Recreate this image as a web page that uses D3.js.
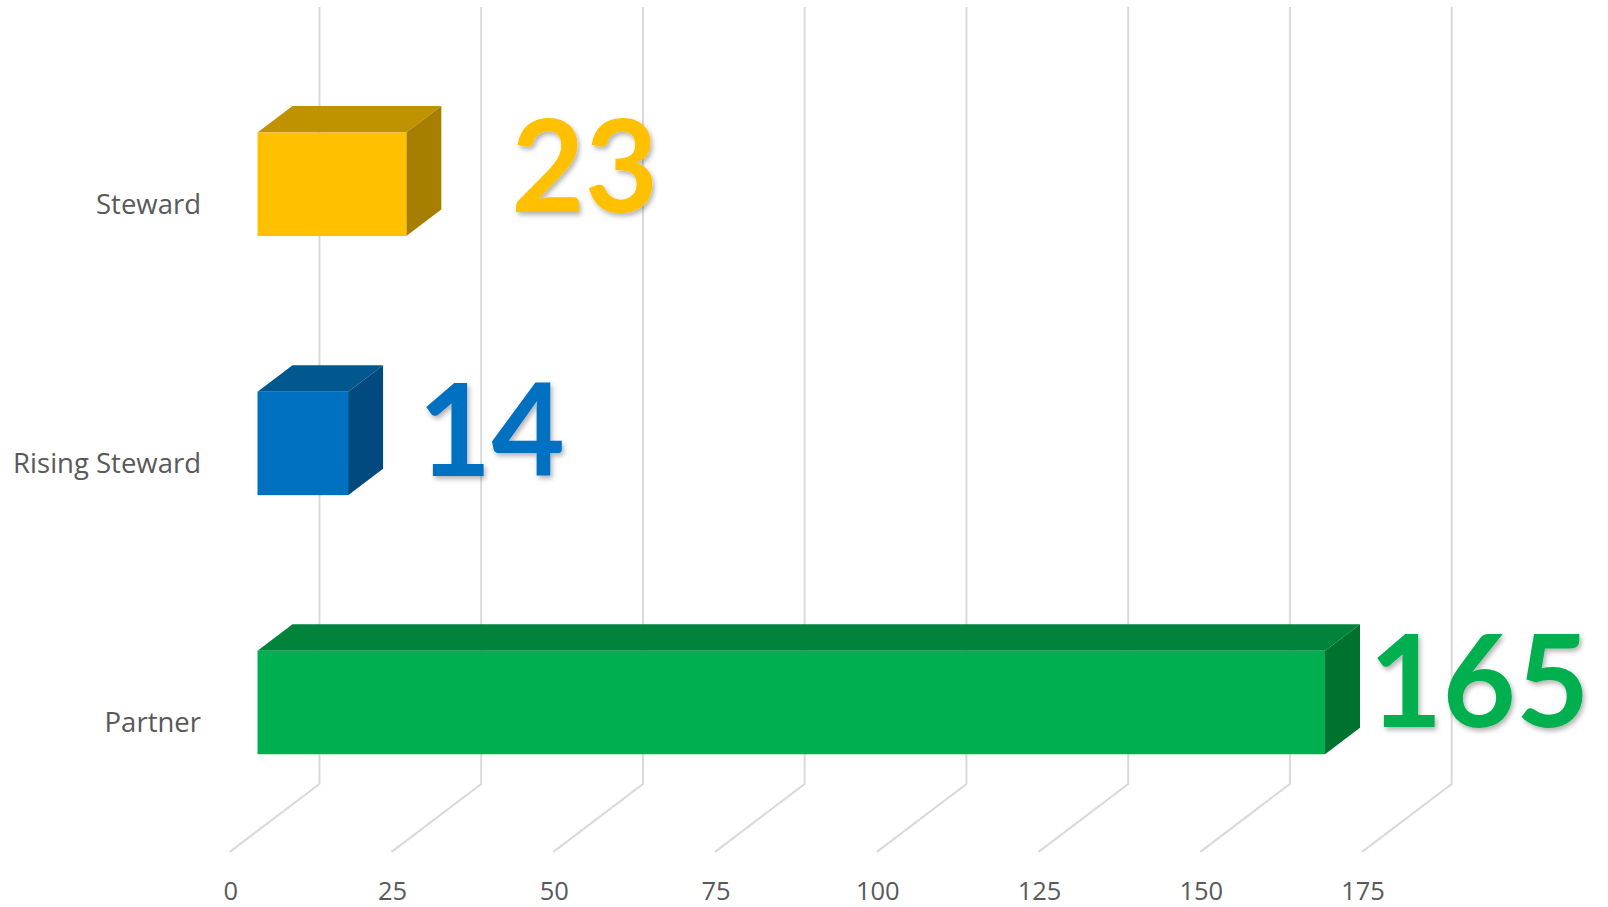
<!DOCTYPE html>
<html>
<head>
<meta charset="utf-8">
<script src="https://cdn.jsdelivr.net/npm/d3@7"></script>
<style>
    html, body { margin: 0; padding: 0; background: #fff; }
    svg { display: block; }
</style>
</head>
<body>
<svg id="chart" width="1608" height="907"></svg>
<script>
// chart data
var categories = ["Steward", "Rising Steward", "Partner"];
var values = [23, 14, 165];
var tickValues = [0, 25, 50, 75, 100, 125, 150, 175];

// face colours per category: front, top, side
var faceColors = {
    "Steward": ["#FFC000", "#C09200", "#A67E00"],
    "Rising Steward": ["#0070C0", "#00588F", "#004A7F"],
    "Partner": ["#00B050", "#00843C", "#00722F"]
};

// hand nudges for the big value labels (Excel puts them a bit unevenly)
var labelNudge = {
    "Steward": [70, -24],
    "Rising Steward": [35, -19],
    "Partner": [9, -27]
};

var svg = d3.select("#chart");

var x = d3.scaleLinear().domain([0, 175]).range([257.5, 1389.7]);
var y = d3.scalePoint().domain(categories).range([184.3, 702.5]);

var barH = 103.5;
var depth = [35, -26.5];      // one depth unit of the oblique projection
var wallD = 1.77;             // back wall, in depth units behind the bar front
var floorD = -0.79;           // front edge of the floor
var wallTop = 7;
var wallBottom = 784;
var labelFont = "'Open Sans', 'Noto Sans', sans-serif";

// gridlines: vertical on the back wall, then diagonal across the floor
var grid = svg.append("g").attr("class", "grid");
tickValues.forEach(t => {
    var bx = x(t) + depth[0] * wallD;
    var fx = x(t) + depth[0] * floorD;
    var fy = wallBottom + (wallD - floorD) * -depth[1];
    grid.append("path")
        .attr("d", "M" + bx + "," + wallTop + "L" + bx + "," + wallBottom + "L" + fx + "," + fy)
        .attr("fill", "none")
        .attr("stroke", "#d9d9d9")
        .attr("stroke-width", 2);
    grid.append("text")
        .attr("x", fx + 1)
        .attr("y", 900)
        .attr("text-anchor", "middle")
        .attr("font-family", labelFont)
        .attr("font-size", 25.5)
        .attr("fill", "#595959")
        .text(t);
});

// category labels
svg.append("g")
    .selectAll("text")
    .data(categories)
    .join("text")
    .attr("x", 201)
    .attr("y", d => y(d) + 29.5)
    .attr("text-anchor", "end")
    .attr("font-family", labelFont)
    .attr("font-size", 27.5)
    .attr("fill", "#595959")
    .text(d => d);

// 3d bars
var bars = svg.append("g").attr("class", "bars");
categories.forEach((c, i) => {
    var x0 = x(0), x1 = x(values[i]);
    var top = y(c) - barH / 2, bottom = y(c) + barH / 2;
    var dx = depth[0], dy = depth[1];
    var col = faceColors[c];
    var g = bars.append("g");
    // top face
    g.append("path")
        .attr("d", "M" + x0 + "," + top + "L" + (x0 + dx) + "," + (top + dy) +
            "L" + (x1 + dx) + "," + (top + dy) + "L" + x1 + "," + top + "Z")
        .attr("fill", col[1]);
    // side face
    g.append("path")
        .attr("d", "M" + x1 + "," + top + "L" + (x1 + dx) + "," + (top + dy) +
            "L" + (x1 + dx) + "," + (bottom + dy) + "L" + x1 + "," + bottom + "Z")
        .attr("fill", col[2]);
    // front face
    g.append("rect")
        .attr("x", x0)
        .attr("y", top)
        .attr("width", x1 - x0)
        .attr("height", barH)
        .attr("fill", col[0]);
});

// drop shadow for the value labels
var defs = svg.append("defs");
defs.append("filter")
    .attr("id", "shadow")
    .attr("x", "-10%").attr("y", "-10%")
    .attr("width", "130%").attr("height", "130%")
    .append("feDropShadow")
    .attr("dx", 2)
    .attr("dy", 3)
    .attr("stdDeviation", 2.5)
    .attr("flood-color", "#000")
    .attr("flood-opacity", 0.3);

var valueSize = 129;
svg.append("g")
    .selectAll("text")
    .data(categories)
    .join("text")
    .attr("x", (d, i) => x(values[i]) + depth[0] + labelNudge[d][0])
    .attr("y", d => y(d) + barH / 2 + labelNudge[d][1])
    .attr("font-family", "Lato, 'Open Sans', sans-serif")
    .attr("font-weight", 700)
    .attr("font-size", valueSize)
    .attr("fill", d => faceColors[d][0])
    .attr("filter", "url(#shadow)")
    .attr("textLength", (d, i) => String(values[i]).length * 0.57 * valueSize)
    .attr("lengthAdjust", "spacingAndGlyphs")
    .text((d, i) => values[i]);
</script>
</body>
</html>
